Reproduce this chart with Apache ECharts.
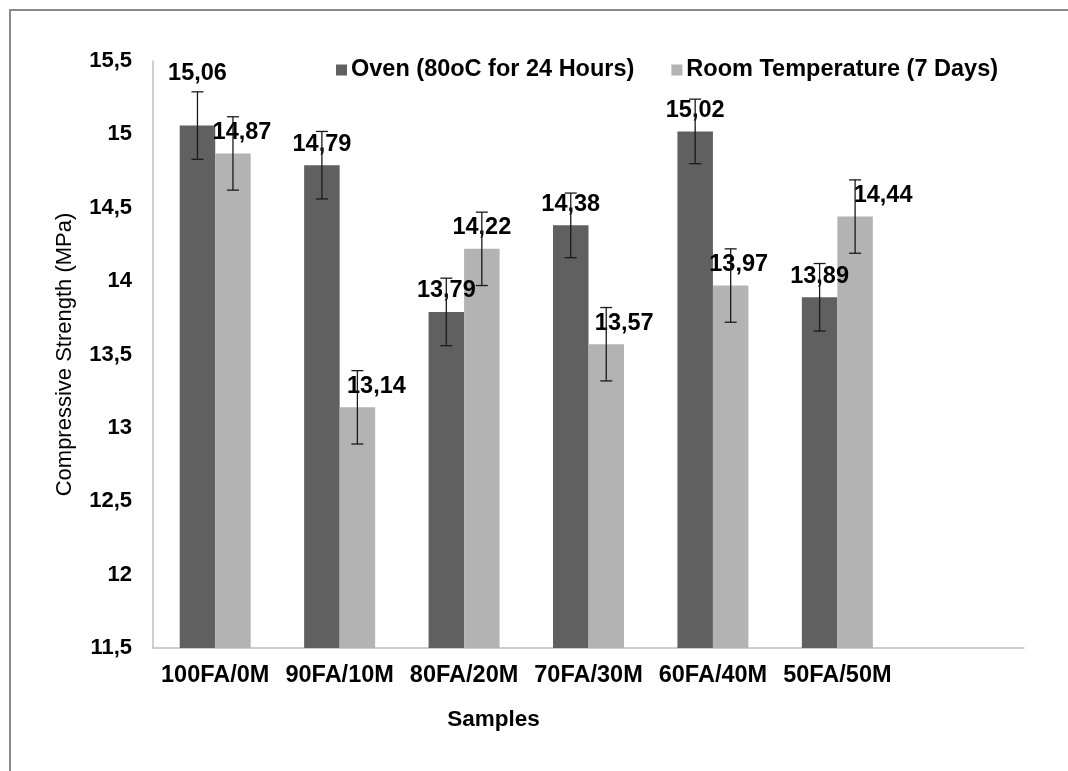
<!DOCTYPE html>
<html>
<head>
<meta charset="utf-8">
<script src="https://cdn.jsdelivr.net/npm/echarts@6/dist/echarts.min.js"></script>
<style>html,body{margin:0;padding:0;background:#fff;}#c{width:1068px;height:771px;}</style>
</head>
<body>
<div id="c"></div>
<script>
const categories = ['100FA/0M', '90FA/10M', '80FA/20M', '70FA/30M', '60FA/40M', '50FA/50M', ''];
const seriesNames = ['Oven (80oC for 24 Hours)', 'Room Temperature (7 Days)'];
const ovenValues = [15.06, 14.79, 13.79, 14.38, 15.02, 13.89];
const roomValues = [14.87, 13.14, 14.22, 13.57, 13.97, 14.44];
const ovenErrors = [0.23, 0.23, 0.23, 0.22, 0.22, 0.23];
const roomErrors = [0.25, 0.25, 0.25, 0.25, 0.25, 0.25];
const yMin = 11.5, yMax = 15.5, yStep = 0.5;

// label layout tweaks (pixels), kept apart from the data
const ovenLabelShift = [[0, -31], [0, 0], [0, 0], [0, 0], [0, 0], [0, 0]];
const roomLabelShift = [[9, 0], [19, 0], [0, 0], [18, 0], [8, 0], [28, 0]];

const BAR_W = 35.5;
const FONT = 'Liberation Sans, Arial, sans-serif';
const comma = v => String(v).replace('.', ',');

function barData(vals, shifts) {
  return vals.map((v, i) => ({ value: v, label: { offset: shifts[i] } }));
}
function errData(vals, errs) {
  return vals.map((v, i) => [i, v, errs[i]]);
}
function errRender(side) {
  return function (params, api) {
    const i = api.value(0), v = api.value(1), e = api.value(2);
    const top = api.coord([i, v + e]);
    const bot = api.coord([i, v - e]);
    const x = top[0] + side * BAR_W / 2;
    const cap = 6;
    const style = { stroke: '#1a1a1a', lineWidth: 1.3 };
    return {
      type: 'group',
      children: [
        { type: 'line', shape: { x1: x, y1: top[1], x2: x, y2: bot[1] }, style },
        { type: 'line', shape: { x1: x - cap, y1: top[1], x2: x + cap, y2: top[1] }, style },
        { type: 'line', shape: { x1: x - cap, y1: bot[1], x2: x + cap, y2: bot[1] }, style }
      ]
    };
  };
}

const labelStyle = {
  show: true,
  position: 'top',
  distance: 9,
  color: '#000',
  fontFamily: FONT,
  fontWeight: 'bold',
  fontSize: 23.5,
  formatter: p => p.value.toFixed(2).replace('.', ',')
};

const chart = echarts.init(document.getElementById('c'), null, { renderer: 'canvas' });
chart.setOption({
  animation: false,
  backgroundColor: '#fff',
  textStyle: { fontFamily: FONT },
  graphic: [{
    type: 'rect',
    shape: { x: 10, y: 10, width: 1100, height: 800 },
    style: { fill: 'none', stroke: '#8a8a8a', lineWidth: 2 },
    silent: true
  }],
  legend: {
    left: 331,
    top: 53,
    icon: 'rect',
    itemWidth: 11,
    itemHeight: 11,
    itemGap: 37,
    data: seriesNames,
    textStyle: { color: '#000', fontFamily: FONT, fontWeight: 'bold', fontSize: 23.5, padding: [0, 0, 0, -1] }
  },
  grid: { left: 153, right: 44, top: 61, bottom: 123, containLabel: false },
  xAxis: {
    type: 'category',
    data: categories,
    axisLine: { lineStyle: { color: '#bfbfbf', width: 1.5 } },
    axisTick: { show: false },
    axisLabel: { color: '#000', fontFamily: FONT, fontWeight: 'bold', fontSize: 23.5, margin: 16, interval: 0 },
    name: 'Samples',
    nameLocation: 'middle',
    nameGap: 60,
    nameTextStyle: { color: '#000', fontFamily: FONT, fontWeight: 'bold', fontSize: 22.5, padding: [0, 190, 0, 0] }
  },
  yAxis: {
    type: 'value',
    min: yMin,
    max: yMax,
    interval: yStep,
    axisLine: { show: true, lineStyle: { color: '#bfbfbf', width: 1.5 } },
    axisTick: { show: false },
    splitLine: { show: false },
    axisLabel: { color: '#000', fontFamily: FONT, fontWeight: 'bold', fontSize: 22, margin: 21, formatter: comma },
    name: 'Compressive Strength (MPa)',
    nameLocation: 'middle',
    nameGap: 77,
    nameRotate: 90,
    nameTextStyle: { color: '#000', fontFamily: FONT, fontSize: 22, padding: [0, 0, 0, 0] }
  },
  series: [
    {
      name: seriesNames[0], type: 'bar', barWidth: BAR_W, barGap: '0%',
      itemStyle: { color: '#606060' },
      label: labelStyle,
      data: barData(ovenValues, ovenLabelShift), z: 2
    },
    {
      name: seriesNames[1], type: 'bar', barWidth: BAR_W, barGap: '0%',
      itemStyle: { color: '#b3b3b3' },
      label: labelStyle,
      data: barData(roomValues, roomLabelShift), z: 2
    },
    {
      type: 'custom', name: 'ovenErr', renderItem: errRender(-1),
      encode: { x: 0, y: 1 }, data: errData(ovenValues, ovenErrors), z: 5, silent: true
    },
    {
      type: 'custom', name: 'roomErr', renderItem: errRender(1),
      encode: { x: 0, y: 1 }, data: errData(roomValues, roomErrors), z: 5, silent: true
    }
  ]
});
</script>
</body>
</html>
